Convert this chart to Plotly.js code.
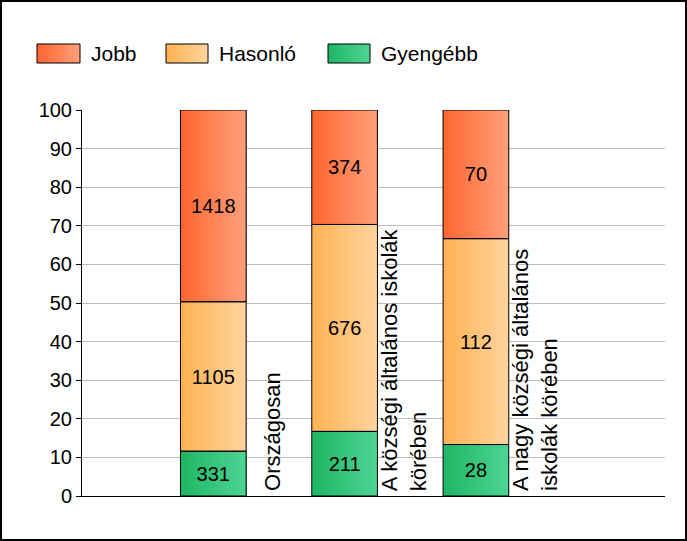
<!DOCTYPE html>
<html>
<head>
<meta charset="utf-8">
<script src="https://cdn.plot.ly/plotly-3.0.1.min.js"></script>
<style>
  html, body { margin: 0; padding: 0; background: #fff; }
  #wrap { position: relative; width: 687px; height: 541px; }
  #chart { position: absolute; left: 0; top: 0; width: 687px; height: 541px; }
  #frame { position: absolute; left: 0; top: 0; width: 687px; height: 541px; box-sizing: border-box; border: 2px solid #000; pointer-events: none; }
</style>
</head>
<body>
<div id="wrap"><div id="chart"></div><div id="frame"></div></div>
<script>
// ---- data ----
const categories = ["Országosan", "A községi általános iskolák körében", "A nagy községi általános iskolák körében"];
const categoryLabels = ["Országosan", "A községi általános iskolák<br>körében", "A nagy községi általános<br>iskolák körében"];
const seriesNames = ["Gyengébb", "Hasonló", "Jobb"];
const gyengebb = [331, 211, 28];
const hasonlo = [1105, 676, 112];
const jobb = [1418, 374, 70];
const yTicks = [0, 10, 20, 30, 40, 50, 60, 70, 80, 90, 100];

// ---- styles ----
const gradients = {
  "Gyengébb": ["#1FB664", "#4ED494"],
  "Hasonló": ["#FFB252", "#FFD49E"],
  "Jobb": ["#FF6630", "#FFA07A"]
};
const FONT = '"Liberation Sans", Arial, sans-serif';
const M = { l: 82, r: 22, t: 110, b: 45 };
const W = 687, H = 541;
const PW = W - M.l - M.r, PH = H - M.t - M.b;
const BAR_W = 0.5, NSLICE = 20;

function hex2rgb(h) { return [1,3,5].map(i => parseInt(h.substr(i,2),16)); }
function mix(a, b, t) {
  const A = hex2rgb(a), B = hex2rgb(b);
  const c = A.map((v, i) => Math.round(v + (B[i]-v)*t));
  return `rgb(${c[0]},${c[1]},${c[2]})`;
}

const seriesVals = [gyengebb, hasonlo, jobb];
const totals = categories.map((_, i) => seriesVals.reduce((s, arr) => s + arr[i], 0));
const pct = seriesVals.map(arr => arr.map((v, i) => v / totals[i] * 100));
const bases = seriesVals.map((_, s) => categories.map((_, i) => {
  let b = 0; for (let k = 0; k < s; k++) b += pct[k][i]; return b;
}));

const traces = [];
seriesNames.forEach((name, s) => {
  const [c1, c2] = gradients[name];
  for (let k = 0; k < NSLICE; k++) {
    const w = BAR_W - k * BAR_W / NSLICE;
    traces.push({
      type: 'bar', x: categories, y: pct[s], base: bases[s],
      offset: -BAR_W/2 + k * BAR_W / NSLICE, width: w,
      marker: { color: mix(c1, c2, (k + 0.5) / NSLICE), line: { width: 0 } },
      hoverinfo: 'skip', showlegend: false
    });
  }
});
seriesNames.forEach((name, s) => {
  traces.push({
    type: 'bar', x: categories, y: pct[s], base: bases[s],
    width: BAR_W,
    marker: { color: 'rgba(0,0,0,0)', line: { color: '#000', width: 1 } },
    text: seriesVals[s].map(String), textposition: 'inside', insidetextanchor: 'middle',
    textangle: 0, constraintext: 'none',
    textfont: { family: FONT, size: 20, color: '#000' },
    hoverinfo: 'skip', showlegend: false
  });
});

// legend (paper coords from pixels)
const xp = px => (px - M.l) / PW;
const yp = py => (M.t + PH - py) / PH;
const legendItems = [
  { name: "Jobb", x0: 37, x1: 80, tx: 89 },
  { name: "Hasonló", x0: 166, x1: 208, tx: 217 },
  { name: "Gyengébb", x0: 328, x1: 370, tx: 379 }
];
const shapes = [];
const annotations = [];
legendItems.forEach(it => {
  const [c1, c2] = gradients[it.name];
  const n = 14, sw = (it.x1 - it.x0) / n;
  for (let k = 0; k < n; k++) {
    shapes.push({ type: 'rect', xref: 'paper', yref: 'paper',
      x0: xp(it.x0 + k*sw), x1: xp(it.x1), y0: yp(63), y1: yp(44),
      fillcolor: mix(c1, c2, (k+0.5)/n), line: { width: 0 }, layer: 'above' });
  }
  shapes.push({ type: 'rect', xref: 'paper', yref: 'paper',
    x0: xp(it.x0), x1: xp(it.x1), y0: yp(63), y1: yp(44),
    fillcolor: 'rgba(0,0,0,0)', line: { color: '#000', width: 1 }, layer: 'above' });
  annotations.push({ xref: 'paper', yref: 'paper', x: xp(it.tx), y: yp(54),
    xanchor: 'left', yanchor: 'middle', showarrow: false, text: it.name,
    font: { family: FONT, size: 21, color: '#000' } });
});
categoryLabels.forEach((lab, i) => {
  annotations.push({ xref: 'x', yref: 'y', x: i + 0.45, y: 0, xanchor: 'center', yanchor: 'bottom',
    yshift: 3, textangle: -90, align: 'left', showarrow: false, text: lab,
    font: { family: FONT, size: 22, color: '#000' } });
});

const layout = {
  width: W, height: H, margin: M,
  paper_bgcolor: '#fff', plot_bgcolor: '#fff',
  barmode: 'overlay', showlegend: false,
  font: { family: FONT, size: 18, color: '#000' },
  xaxis: { type: 'category', range: [-1, 3.44], showticklabels: false, ticks: '',
    showgrid: false, showline: true, linecolor: '#000', linewidth: 1, zeroline: false, fixedrange: true },
  yaxis: { range: [0, 100], tickvals: yTicks, ticktext: yTicks.map(String), ticks: 'outside', ticklen: 5,
    tickcolor: '#000', showline: true, linecolor: '#000', linewidth: 1,
    showgrid: true, gridcolor: '#BDBDBD', gridwidth: 1, zeroline: false,
    tickfont: { family: FONT, size: 20, color: '#000' }, fixedrange: true },
  shapes, annotations
};
Plotly.newPlot('chart', traces, layout, { displayModeBar: false, staticPlot: true });
</script>
</body>
</html>
